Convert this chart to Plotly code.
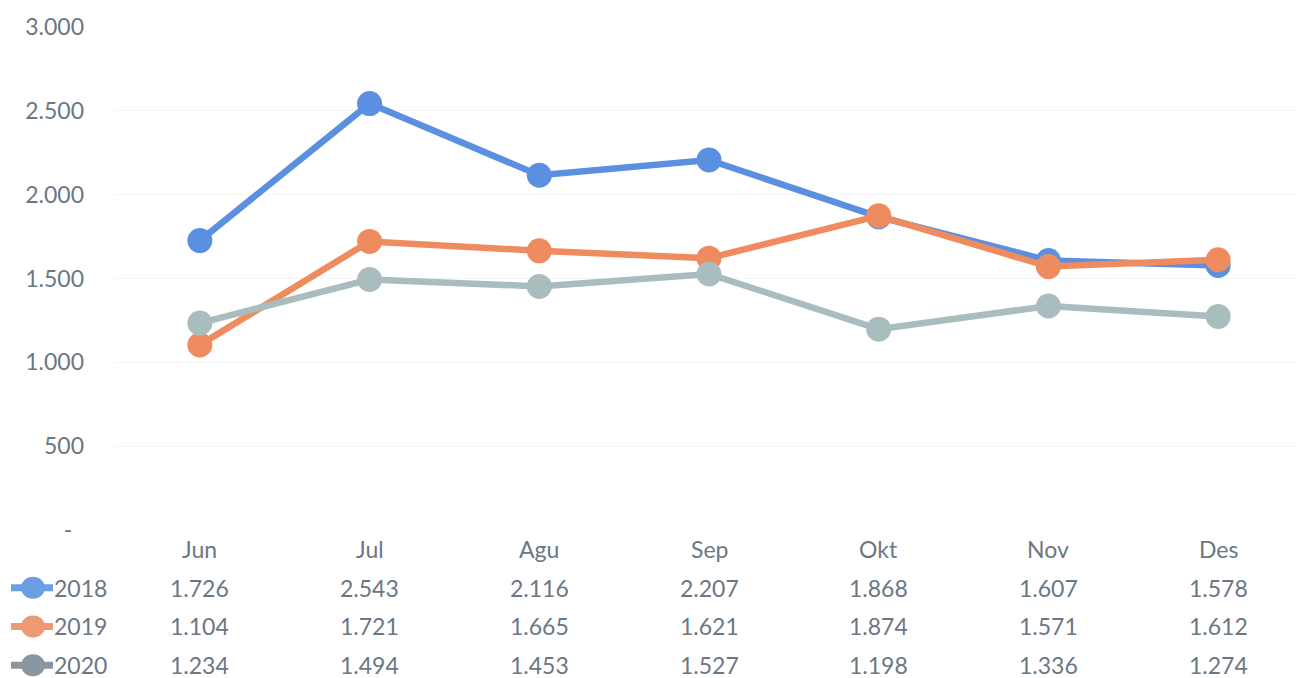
import plotly.graph_objects as go

months = ["Jun", "Jul", "Agu", "Sep", "Okt", "Nov", "Des"]
years = ["2018", "2019", "2020"]
v2018 = [1726, 2543, 2116, 2207, 1868, 1607, 1578]
v2019 = [1104, 1721, 1665, 1621, 1874, 1571, 1612]
v2020 = [1234, 1494, 1453, 1527, 1198, 1336, 1274]
series = [v2018, v2019, v2020]
line_colors = ["#5b8fe0", "#ef8c5f", "#a9bcbe"]
key_colors = ["#6a9fe6", "#eb9a74", "#8a96a0"]
tick_vals = [0, 500, 1000, 1500, 2000, 2500, 3000]
tick_text = ["-\u00a0\u00a0", "500", "1.000", "1.500", "2.000", "2.500", "3.000"]

def fmt(v):
    return f"{v:,}".replace(",", ".")

fig = go.Figure()
for name, vals, col in zip(years, series, line_colors):
    fig.add_trace(go.Scatter(
        x=months, y=vals, name=name, mode="lines+markers",
        line=dict(color=col, width=6.5),
        marker=dict(color=col, size=25),
        showlegend=False, hoverinfo="x+y+name"))

txt_color = "#6b7782"
font = dict(family="Lato", size=23, color=txt_color)
W = 1188.0
H = 506.0
header_y = (530 - 549) / H
row_y = [(530 - 588) / H, (530 - 627) / H, (530 - 666) / H]

ann = []
for m in months:
    ann.append(dict(x=m, y=header_y, xref="x", yref="paper", text=m,
                    showarrow=False, font=font, xanchor="center", yanchor="middle"))
shapes = []
for i, (name, vals) in enumerate(zip(years, series)):
    for m, v in zip(months, vals):
        ann.append(dict(x=m, y=row_y[i], xref="x", yref="paper", text=fmt(v),
                        showarrow=False, font=font, xanchor="center", yanchor="middle"))
    ann.append(dict(x=(52 - 115) / W, y=row_y[i], xref="paper", yref="paper", text=name,
                    showarrow=False, font=font, xanchor="left", yanchor="middle"))
    kx = (33 - 115) / W
    shapes.append(dict(type="line", xref="paper", yref="paper", xsizemode="pixel",
                       ysizemode="pixel", xanchor=kx, yanchor=row_y[i],
                       x0=-22, x1=20, y0=0, y1=0,
                       line=dict(color=key_colors[i], width=7)))
    shapes.append(dict(type="circle", xref="paper", yref="paper", xsizemode="pixel",
                       ysizemode="pixel", xanchor=kx, yanchor=row_y[i],
                       x0=-12, x1=12, y0=-11, y1=11,
                       fillcolor=key_colors[i], line=dict(width=0)))

fig.update_layout(
    width=1299, height=670,
    margin=dict(l=107, r=4, t=16, b=148),
    paper_bgcolor="white", plot_bgcolor="white",
    annotations=ann, shapes=shapes,
    xaxis=dict(showgrid=False, showticklabels=False, zeroline=False,
               showline=False, range=[-0.5, 6.5]),
    yaxis=dict(range=[0, 3000], tickvals=tick_vals, ticktext=tick_text,
               showgrid=True, gridcolor="#f5f5f5", gridwidth=1, zeroline=False,
               showline=False, tickfont=dict(family="Lato", size=23, color=txt_color),
               ticks="", ticklabelstandoff=30),
)
fig.write_html("out.html")
